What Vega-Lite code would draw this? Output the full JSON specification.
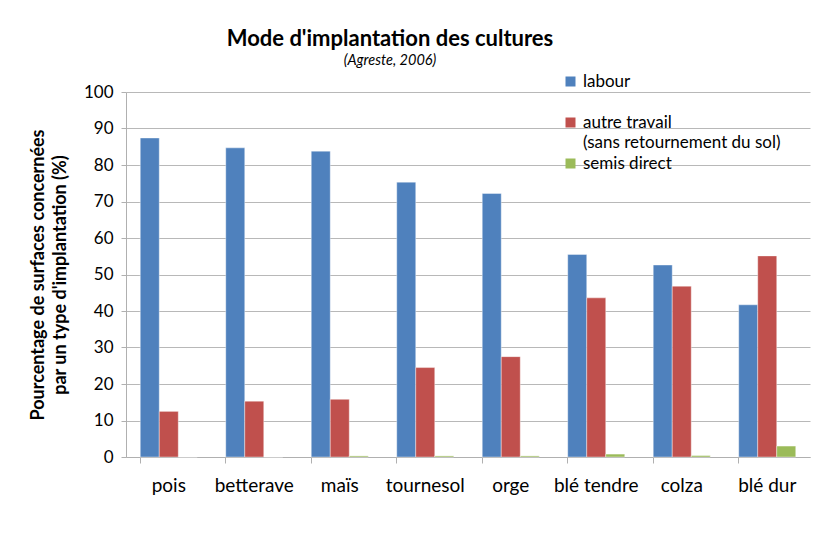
{
  "$schema": "https://vega.github.io/schema/vega-lite/v6.json",
  "width": 684,
  "height": 365,
  "autosize": "none",
  "padding": {"left": 126, "top": 92, "right": 8, "bottom": 80},
  "background": "white",
  "title": {
    "text": "Mode d'implantation des cultures",
    "subtitle": "(Agreste, 2006)",
    "anchor": "middle",
    "dx": -78,
    "offset": 5,
    "font": "Lato",
    "fontSize": 22,
    "fontWeight": "bold",
    "color": "black",
    "subtitleFont": "Lato",
    "subtitleFontSize": 14.5,
    "subtitleFontStyle": "italic",
    "subtitleColor": "black",
    "subtitlePadding": 3
  },
  "data": {
    "values": [
      {"culture": "pois", "mode": "labour", "valeur": 87.4},
      {"culture": "pois", "mode": "autre travail", "valeur": 12.5},
      {"culture": "pois", "mode": "semis direct", "valeur": 0},
      {"culture": "betterave", "mode": "labour", "valeur": 84.7},
      {"culture": "betterave", "mode": "autre travail", "valeur": 15.3},
      {"culture": "betterave", "mode": "semis direct", "valeur": 0},
      {"culture": "maïs", "mode": "labour", "valeur": 83.8},
      {"culture": "maïs", "mode": "autre travail", "valeur": 15.8},
      {"culture": "maïs", "mode": "semis direct", "valeur": 0.3},
      {"culture": "tournesol", "mode": "labour", "valeur": 75.3},
      {"culture": "tournesol", "mode": "autre travail", "valeur": 24.5},
      {"culture": "tournesol", "mode": "semis direct", "valeur": 0.3},
      {"culture": "orge", "mode": "labour", "valeur": 72.2},
      {"culture": "orge", "mode": "autre travail", "valeur": 27.5},
      {"culture": "orge", "mode": "semis direct", "valeur": 0.3},
      {"culture": "blé tendre", "mode": "labour", "valeur": 55.5},
      {"culture": "blé tendre", "mode": "autre travail", "valeur": 43.6},
      {"culture": "blé tendre", "mode": "semis direct", "valeur": 0.8},
      {"culture": "colza", "mode": "labour", "valeur": 52.6},
      {"culture": "colza", "mode": "autre travail", "valeur": 46.8},
      {"culture": "colza", "mode": "semis direct", "valeur": 0.4},
      {"culture": "blé dur", "mode": "labour", "valeur": 41.7},
      {"culture": "blé dur", "mode": "autre travail", "valeur": 55.1},
      {"culture": "blé dur", "mode": "semis direct", "valeur": 3.0}
    ]
  },
  "mark": {"type": "bar", "strokeWidth": 0.8, "strokeOpacity": 0.5, "stroke": "white"},
  "encoding": {
    "x": {
      "field": "culture",
      "type": "nominal",
      "sort": null,
      "scale": {"paddingInner": 0.333, "paddingOuter": 0.1667},
      "axis": {
        "title": null,
        "labelAngle": 0,
        "labelFont": "Lato",
        "labelFontSize": 19,
        "labelColor": "black",
        "labelPadding": 13,
        "tickSize": 6,
        "bandPosition": 0,
        "tickColor": "#b0b0b0",
        "domainColor": "#b0b0b0",
        "grid": false
      }
    },
    "xOffset": {"field": "mode", "type": "nominal", "sort": ["labour", "autre travail", "semis direct"]},
    "y": {
      "field": "valeur",
      "type": "quantitative",
      "scale": {"domain": [0, 100], "nice": false},
      "axis": {
        "values": [0, 10, 20, 30, 40, 50, 60, 70, 80, 90, 100],
        "title": ["Pourcentage de surfaces concernées", "par un type d'implantation (%)"],
        "titleFont": "Lato",
        "titleFontSize": 18,
        "titleFontWeight": "bold",
        "titleColor": "black",
        "titlePadding": 14,
        "titleLineHeight": 22,
        "labelFont": "Lato",
        "labelFontSize": 17,
        "labelColor": "black",
        "labelPadding": 8,
        "tickSize": 5,
        "tickColor": "#b0b0b0",
        "domainColor": "#b0b0b0",
        "gridColor": "#b8b8b8",
        "gridWidth": 1
      }
    },
    "color": {
      "field": "mode",
      "type": "nominal",
      "sort": ["labour", "autre travail", "semis direct"],
      "scale": {"domain": ["labour", "autre travail", "semis direct"], "range": ["#4F81BD", "#C0504D", "#9BBB59"]},
      "legend": {
        "title": null,
        "orient": "none",
        "legendX": 436,
        "legendY": -19,
        "symbolType": "square",
        "symbolSize": 100,
        "symbolStrokeWidth": 0,
        "labelFont": "Lato",
        "labelFontSize": 17,
        "labelColor": "black",
        "labelExpr": "datum.label == 'autre travail' ? ['autre travail', '(sans retournement du sol)'] : [datum.label, '']",
        "labelBaseline": "middle",
        "rowPadding": 3,
        "labelLimit": 300
      }
    }
  },
  "config": {"view": {"stroke": null}, "style": {"guide-label": {"lineHeight": 20}}}
}
